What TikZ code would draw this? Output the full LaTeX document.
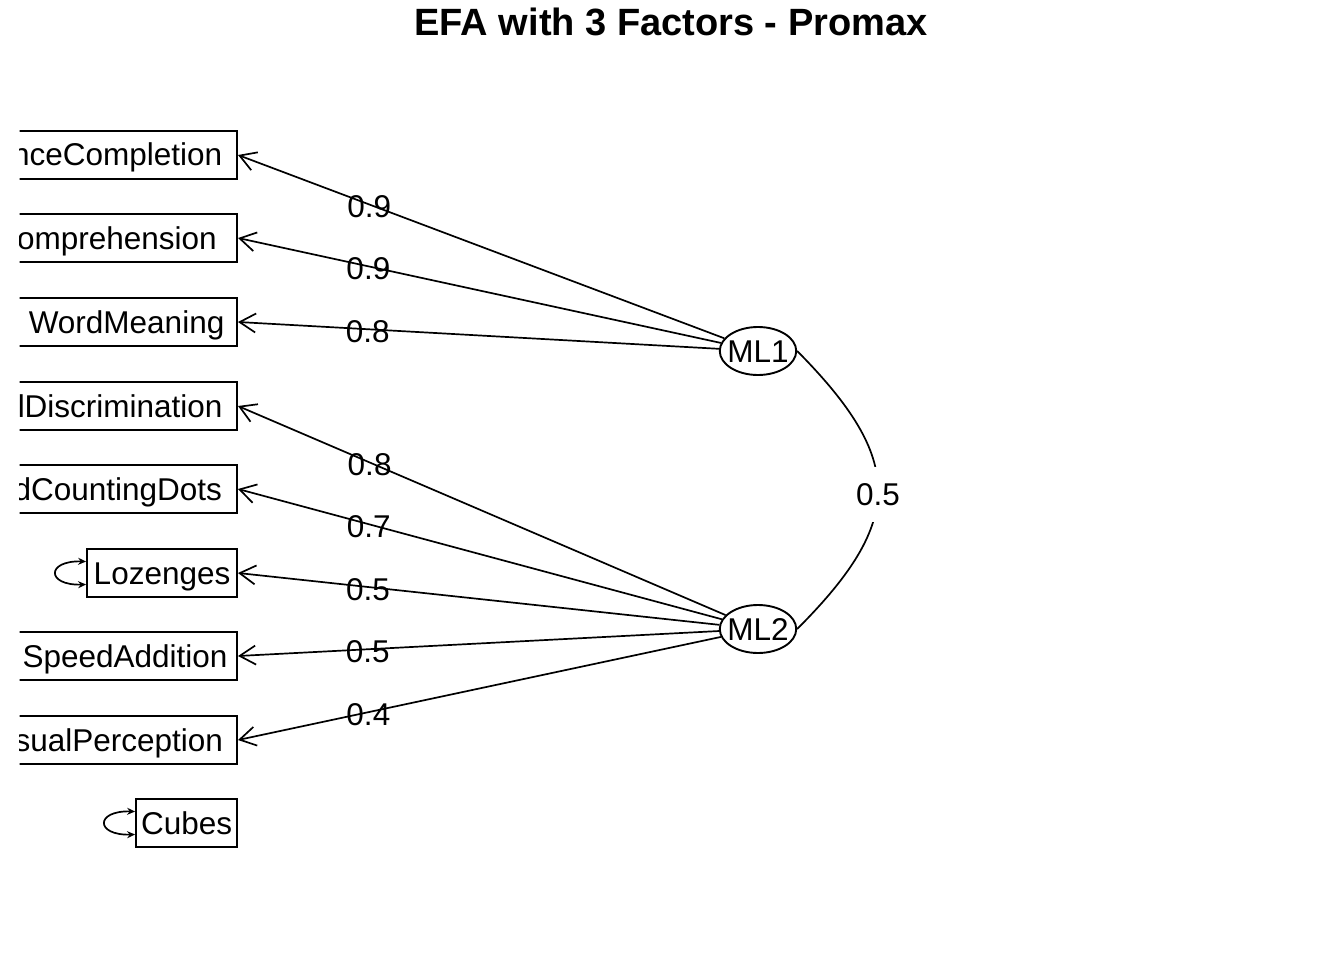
\documentclass[tikz,border=0pt]{standalone}
\usepackage{fontspec}
\setmainfont{Liberation Sans}
\usetikzlibrary{arrows.meta,shapes.geometric}
\begin{document}
\begin{tikzpicture}[x=1pt,y=-1pt,
  txt/.style={font=\fontsize{31.5}{31.5}\selectfont, text height=22pt, text depth=0pt},
  obs/.style={txt, draw, line width=1.9pt, fill=white, rectangle, minimum height=48pt, inner sep=0pt, anchor=east},
  lat/.style={txt, draw, line width=1.9pt, ellipse, minimum width=76pt, minimum height=48pt, inner sep=-3.6pt},
  load/.style={line width=1.7pt, -{Straight Barb[length=16pt,width=19pt,line width=1.7pt]}},
  selfloop/.style={line width=1.7pt, {Stealth[length=8pt,width=7pt]}-{Stealth[length=8pt,width=7pt]}},
  lab/.style={txt, pos=0.73, inner sep=0pt, yshift=-2pt}
]
\fill[white] (0,0) rectangle (1344,960);
\useasboundingbox (0,0) rectangle (1344,960);
\node[font=\fontsize{38}{38}\selectfont\bfseries, text height=27pt, text depth=0pt, inner sep=0pt] (title) at (671,22) {EFA with 3 Factors - Promax};
\begin{scope}
\clip (19.5,0) rectangle (1344,960);
\node[obs, minimum width=322pt] (SC) at (238,155) {SentenceCompletion};
\node[obs, minimum width=410pt] (PC) at (238,238) {ParagraphComprehension};
\node[obs, minimum width=221pt] (WM) at (238,322) {WordMeaning};
\node[obs, minimum width=312pt] (VD) at (238,406) {VisualDiscrimination};
\node[obs, minimum width=312pt] (CD) at (238,489) {SpeedCountingDots};
\node[obs, minimum width=150pt] (LZ) at (238,573) {Lozenges};
\node[obs, minimum width=224pt] (SA) at (238,656) {SpeedAddition};
\node[obs, minimum width=264pt] (VP) at (238,740) {VisualPerception};
\node[obs, minimum width=101pt] (CU) at (238,823) {Cubes};

\node[lat] (ML1) at (758,351) {ML1};
\node[lat] (ML2) at (758,629) {ML2};

\draw[load] (ML1) -- node[lab]{0.9} (SC.east);
\draw[load] (ML1) -- node[lab]{0.9} (PC.east);
\draw[load] (ML1) -- node[lab]{0.8} (WM.east);
\draw[load] (ML2) -- node[lab]{0.8} (VD.east);
\draw[load] (ML2) -- node[lab]{0.7} (CD.east);
\draw[load] (ML2) -- node[lab]{0.5} (LZ.east);
\draw[load] (ML2) -- node[lab]{0.5} (SA.east);
\draw[load] (ML2) -- node[lab]{0.4} (VP.east);

\draw[line width=1.7pt] (ML1.east) .. controls (905,460) and (905,521) ..
  node[txt, pos=0.5, yshift=-4.5pt, fill=white, minimum height=55pt, inner xsep=2pt] (r12) {0.5} (ML2.east);

\draw[selfloop] ([yshift=11.5pt]LZ.west) .. controls +(-40,-1) and +(-40,1) .. ([yshift=-11.5pt]LZ.west);
\draw[selfloop] ([yshift=11.5pt]CU.west) .. controls +(-40,-1) and +(-40,1) .. ([yshift=-11.5pt]CU.west);
\end{scope}
\end{tikzpicture}
\end{document}
